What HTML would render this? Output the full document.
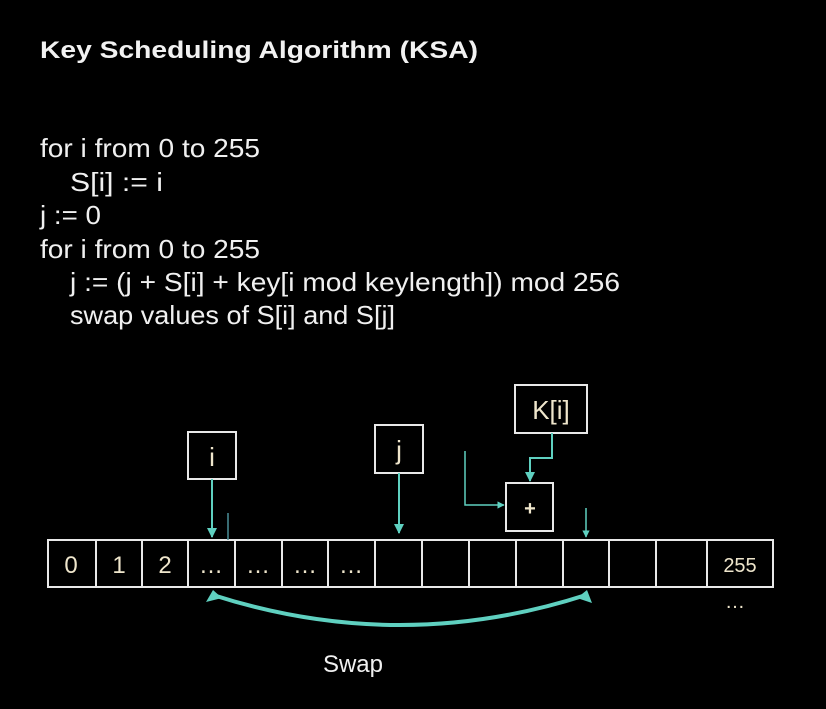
<!DOCTYPE html>
<html><head><meta charset="utf-8"><style>
html,body{margin:0;padding:0;background:#000;}
svg{display:block;}
text{font-family:"Liberation Sans",Arial,sans-serif;}
</style></head><body>
<svg width="826" height="709" viewBox="0 0 826 709" xmlns="http://www.w3.org/2000/svg">
<rect width="826" height="709" fill="#000"/>
<text x="40" y="58" font-size="24" font-weight="bold" fill="#f2f2f2" textLength="438" lengthAdjust="spacingAndGlyphs">Key Scheduling Algorithm (KSA)</text>
<g font-size="26" fill="#f0f0f0">
<text x="40" y="157" textLength="220" lengthAdjust="spacingAndGlyphs">for i from 0 to 255</text>
<text x="70" y="191" textLength="93" lengthAdjust="spacingAndGlyphs">S[i] := i</text>
<text x="40" y="224" textLength="61" lengthAdjust="spacingAndGlyphs">j := 0</text>
<text x="40" y="258" textLength="220" lengthAdjust="spacingAndGlyphs">for i from 0 to 255</text>
<text x="70" y="291" textLength="550" lengthAdjust="spacingAndGlyphs">j := (j + S[i] + key[i mod keylength]) mod 256</text>
<text x="70" y="324" textLength="325" lengthAdjust="spacingAndGlyphs">swap values of S[i] and S[j]</text>
</g>
<defs>
<marker id="a" viewBox="0 0 10 10" refX="9" refY="5" markerWidth="5" markerHeight="5" orient="auto"><path d="M0,0 L10,5 L0,10 z" fill="#5fd0c0"/></marker>
</defs>
<g fill="none" stroke="#e8e8e8" stroke-width="2">
<rect x="48" y="540" width="725" height="47"/>
<path d="M96,540V587M142,540V587M188,540V587M235,540V587M282,540V587M328,540V587M375,540V587M422,540V587M469,540V587M516,540V587M563,540V587M609,540V587M656,540V587M707,540V587"/>
<rect x="188" y="432" width="48" height="47"/>
<rect x="375" y="425" width="48" height="48"/>
<rect x="515" y="385" width="72" height="48"/>
<rect x="506" y="483" width="47" height="48"/>
</g>
<g stroke="#5fd0c0" stroke-width="2" fill="none">
<path d="M212,479V537" marker-end="url(#a)"/>
<path d="M399,473V533" marker-end="url(#a)"/>
<path d="M552,433V458H530V481" marker-end="url(#a)"/>
<path d="M586,508V537" marker-end="url(#a)" stroke-width="1.5"/>
<path d="M465,451V505H504" marker-end="url(#a)" stroke-width="1.5"/>
<path d="M228,513V540" stroke="#4a8f98" stroke-width="1.5"/>
<path d="M213,595 Q400,655 586,595" stroke-width="4"/>
</g>
<path d="M206,602 L213,590 L222,598 z" fill="#5fd0c0"/>
<path d="M577,598 L587,590 L592,603 z" fill="#5fd0c0"/>
<g fill="#efe6cc" font-size="24" text-anchor="middle">
<text x="71" y="573">0</text>
<text x="119" y="573">1</text>
<text x="165" y="573">2</text>
<text x="211" y="573">…</text>
<text x="258" y="573">…</text>
<text x="305" y="573">…</text>
<text x="351" y="573">…</text>
<text x="740" y="572" font-size="20">255</text>
<text x="735" y="608" font-size="20">…</text>
<text x="212" y="466" font-size="26">i</text>
<text x="399" y="459" font-size="26">j</text>
<text x="551" y="419" font-size="26">K[i]</text>
<text x="530" y="515" font-weight="bold" font-size="20">+</text>
</g>
<text x="353" y="672" font-size="24" fill="#f0f0f0" text-anchor="middle">Swap</text>
</svg>
</body></html>
